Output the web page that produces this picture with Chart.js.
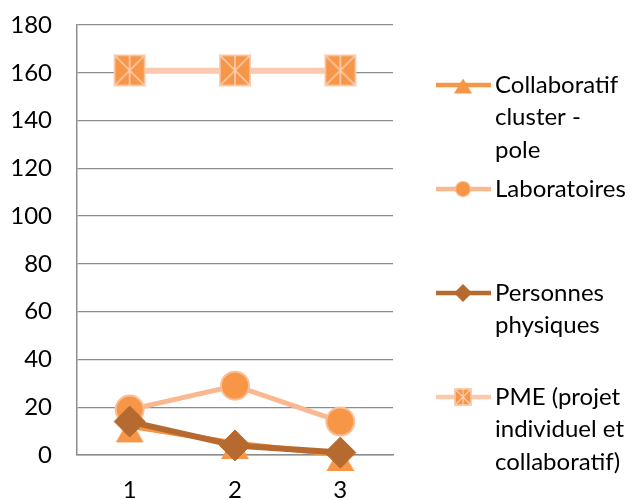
<!DOCTYPE html>
<html>
<head>
<meta charset="utf-8">
<script src="https://cdn.jsdelivr.net/npm/chart.js@4"></script>
<style>
  html, body { margin: 0; padding: 0; background: #ffffff; }
  #wrap { width: 635px; height: 500px; position: relative; }
</style>
</head>
<body>
<div id="wrap"><canvas id="c"></canvas></div>
<script>
// Data
const categories = ['1', '2', '3'];
const collaboratif = [12, 5, 0];
const laboratoires = [19, 29, 14];
const personnesPhysiques = [14, 4, 1];
const pme = [161, 161, 161];
const seriesLabels = [
  ['Collaboratif', 'cluster -', 'pole'],
  ['Laboratoires'],
  ['Personnes', 'physiques'],
  ['PME (projet', 'individuel et', 'collaboratif)']
];
const yMin = 0, yMax = 180, yStep = 20;

// Palette
const ORANGE = '#F79646';
const LAB_LINE = '#F9B890';
const LAB_EDGE = '#F9BE9A';
const BROWN = '#B66A2F';
const PME_LINE = '#FBCAAE';
const PME_STAR = '#FBCFB6';
const GRID = '#8C8C8C';
const FONT = 'Lato, "Open Sans", sans-serif';
const FONT_SIZE = 24;

function makeCanvas(w, h, draw) {
  const cv = document.createElement('canvas');
  cv.width = w; cv.height = h;
  draw(cv.getContext('2d'), w, h);
  return cv;
}

// Triangle marker, shape sits slightly below the anchor point
function drawTriangle(ctx, cx, cy, w, h, color) {
  ctx.fillStyle = color;
  ctx.beginPath();
  ctx.moveTo(cx - w / 2, cy + h / 2);
  ctx.lineTo(cx + w / 2, cy + h / 2);
  ctx.lineTo(cx, cy - h / 2);
  ctx.closePath();
  ctx.fill();
}
const triMarker = makeCanvas(30, 38, (ctx) => drawTriangle(ctx, 15, 23, 28, 24, ORANGE));

// Square marker with a star drawn over it
function drawStarSquare(ctx, cx, cy, s, lw) {
  ctx.fillStyle = ORANGE;
  ctx.fillRect(cx - s / 2, cy - s / 2, s, s);
  ctx.strokeStyle = PME_STAR;
  ctx.lineWidth = lw;
  ctx.strokeRect(cx - s / 2 + lw / 2, cy - s / 2 + lw / 2, s - lw, s - lw);
  ctx.beginPath();
  ctx.moveTo(cx - s / 2, cy - s / 2); ctx.lineTo(cx + s / 2, cy + s / 2);
  ctx.moveTo(cx + s / 2, cy - s / 2); ctx.lineTo(cx - s / 2, cy + s / 2);
  ctx.moveTo(cx, cy - s / 2); ctx.lineTo(cx, cy + s / 2);
  ctx.stroke();
}
const pmeMarker = makeCanvas(34, 34, (ctx) => drawStarSquare(ctx, 17, 17, 32, 1.6));

// Side legend drawn to the right of the plot
const sideLegend = {
  id: 'sideLegend',
  afterDraw(chart) {
    const ctx = chart.ctx;
    const area = chart.chartArea;
    const x0 = area.right + 43, x1 = area.right + 98, xm = area.right + 70, tx = area.right + 102;
    const firstY = 85, stepY = 104, lineH = 32.5;
    ctx.save();
    ctx.lineCap = 'butt';
    const styles = [
      { line: ORANGE, w: 4.5, mark: (y) => drawTriangle(ctx, xm, y + 1, 18, 15, ORANGE) },
      { line: LAB_LINE, w: 4.5, mark: (y) => {
          ctx.beginPath(); ctx.arc(xm, y, 7.5, 0, Math.PI * 2);
          ctx.fillStyle = ORANGE; ctx.fill();
          ctx.lineWidth = 1.2; ctx.strokeStyle = LAB_EDGE; ctx.stroke();
        } },
      { line: BROWN, w: 4.5, mark: (y) => {
          ctx.beginPath();
          ctx.moveTo(xm - 9, y); ctx.lineTo(xm, y - 9); ctx.lineTo(xm + 9, y); ctx.lineTo(xm, y + 9);
          ctx.closePath(); ctx.fillStyle = BROWN; ctx.fill();
        } },
      { line: PME_LINE, w: 4.5, mark: (y) => drawStarSquare(ctx, xm, y, 17, 1.2) }
    ];
    seriesLabels.forEach((lines, i) => {
      const y = firstY + i * stepY;
      const st = styles[i];
      ctx.beginPath();
      ctx.moveTo(x0, y); ctx.lineTo(x1, y);
      ctx.strokeStyle = st.line; ctx.lineWidth = st.w; ctx.stroke();
      st.mark(y);
      ctx.fillStyle = '#000000';
      ctx.font = FONT_SIZE + 'px ' + FONT;
      ctx.textAlign = 'left';
      ctx.textBaseline = 'middle';
      lines.forEach((t, j) => ctx.fillText(t, tx, y + j * lineH));
    });
    ctx.restore();
  }
};

new Chart(document.getElementById('c'), {
  type: 'line',
  data: {
    labels: categories,
    datasets: [
      {
        label: seriesLabels[0].join(' '),
        data: collaboratif,
        borderColor: ORANGE, backgroundColor: ORANGE,
        borderWidth: 5,
        pointStyle: triMarker,
        clip: false,
        order: 1
      },
      {
        label: seriesLabels[1].join(' '),
        data: laboratoires,
        borderColor: LAB_LINE,
        borderWidth: 5,
        pointStyle: 'circle',
        pointRadius: 14,
        pointBackgroundColor: ORANGE,
        pointBorderColor: LAB_EDGE,
        pointBorderWidth: 2,
        clip: false,
        order: 2
      },
      {
        label: seriesLabels[2].join(' '),
        data: personnesPhysiques,
        borderColor: BROWN,
        borderWidth: 6,
        pointStyle: 'rectRot',
        pointRadius: 15.5,
        pointBackgroundColor: BROWN,
        pointBorderColor: BROWN,
        pointBorderWidth: 1,
        clip: false,
        order: 0
      },
      {
        label: seriesLabels[3].join(' '),
        data: pme,
        borderColor: PME_LINE,
        borderWidth: 5.5,
        pointStyle: pmeMarker,
        clip: false,
        order: 3
      }
    ]
  },
  options: {
    responsive: true,
    maintainAspectRatio: false,
    animation: false,
    events: [],
    layout: { autoPadding: false, padding: { left: 0, right: 242, top: 25, bottom: 0 } },
    plugins: { legend: { display: false }, tooltip: { enabled: false } },
    elements: { line: { tension: 0 } },
    scales: {
      x: {
        offset: true,
        grid: { display: false, drawTicks: false },
        border: { display: true, color: GRID, width: 1.5 },
        ticks: { color: '#000', font: { family: FONT, size: FONT_SIZE }, padding: 21 },
        afterFit(scale) { scale.height = 45; }
      },
      y: {
        min: yMin, max: yMax,
        grid: { color: GRID, lineWidth: 1.3, drawTicks: false },
        border: { display: true, color: GRID, width: 1.5 },
        ticks: { stepSize: yStep, color: '#000', font: { family: FONT, size: FONT_SIZE }, padding: 25 },
        afterFit(scale) {
          scale.width = 77;
          scale.paddingTop = 0;
          scale.paddingBottom = 0;
        }
      }
    }
  },
  plugins: [sideLegend]
});
</script>
</body>
</html>
